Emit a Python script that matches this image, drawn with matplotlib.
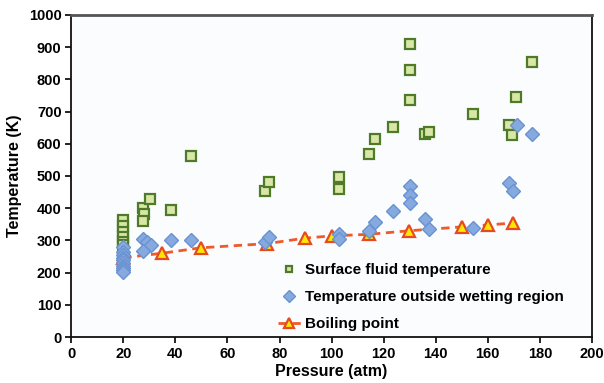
import matplotlib
matplotlib.use("Agg")
import matplotlib.pyplot as plt

plt.rcParams['font.family'] = ['Liberation Sans', 'DejaVu Sans']

# Surface fluid temperature (green squares)
surf_p = [20, 20, 20, 20, 20, 20, 27.4, 28, 27.4, 30.3, 38.4, 46, 74.3, 75.8,
          103, 103, 114.5, 116.7, 123.4, 130, 130, 130, 136, 137.6,
          154.3, 168.3, 169.4, 171, 177]
surf_t = [363, 345, 327, 310, 296, 285, 400, 382, 361, 428, 393, 563, 453, 482,
          498, 460, 567, 616, 653, 911, 830, 736, 629, 636,
          692, 659, 626, 746, 854]

# Temperature outside wetting region (blue diamonds)
out_p = [20, 20, 20, 20, 20, 20, 20, 20, 20, 20,
         27.4, 29, 30.5, 27.4, 38.4, 46, 74.5, 76, 103, 103,
         114.5, 116.7, 123.4, 130, 130, 130, 136, 137.6,
         154.3, 168.3, 169.5, 171.2, 177]
out_t = [278, 265, 255, 245, 238, 230, 222, 215, 208, 202,
         305, 296, 285, 268, 300, 301, 294, 310, 319, 304,
         330, 356, 392, 469, 440, 416, 367, 334,
         339, 477, 454, 657, 630]

# Boiling point (triangles, dashed line)
boil_p = [20, 34.7, 49.7, 75.2, 89.7, 100, 114.5, 129.8, 150, 160, 169.7]
boil_t = [246, 260, 277, 290, 307, 314, 319, 330, 342, 348, 354]

x_ticks = [0, 20, 40, 60, 80, 100, 120, 140, 160, 180, 200]
y_ticks = [0, 100, 200, 300, 400, 500, 600, 700, 800, 900, 1000]

fig = plt.figure(figsize=(6.04, 3.83), dpi=100)
ax = fig.add_axes([0.118, 0.120, 0.862, 0.841])
ax.set_facecolor('#fbfcfe')

ax.plot(boil_p, boil_t, linestyle=(0, (3, 2)), color='#ee5a2a', linewidth=2,
        marker='^', markersize=9, markerfacecolor='#ffe800',
        markeredgecolor='#e64a22', markeredgewidth=1.6, zorder=2,
        label='Boiling point')
ax.plot(surf_p, surf_t, linestyle='none', marker='s', markersize=6.5,
        markerfacecolor='#d8e6a6', markeredgecolor='#4e7a2a', markeredgewidth=1.6,
        zorder=3, label='Surface fluid temperature')
ax.plot(out_p, out_t, linestyle='none', marker='D', markersize=7.5,
        markerfacecolor='#86aae0', markeredgecolor='#6a92d0', markeredgewidth=1.0,
        zorder=4, label='Temperature outside wetting region')

ax.set_xlim(0, 200)
ax.set_ylim(0, 1000)
ax.set_xticks(x_ticks)
ax.set_yticks(y_ticks)
ax.tick_params(direction='out', length=4, width=1.2, labelsize=10.5, pad=3)
for lab in ax.get_xticklabels() + ax.get_yticklabels():
    lab.set_fontweight('bold')
for s in ax.spines.values():
    s.set_linewidth(1.3)
    s.set_color('#111111')
ax.spines['top'].set_color('#555555')
ax.spines['top'].set_linewidth(2)

ax.set_xlabel('Pressure (atm)', fontsize=11.5, fontweight='bold', labelpad=2)
ax.set_ylabel('Temperature (K)', fontsize=11.5, fontweight='bold', labelpad=5)

h, l = ax.get_legend_handles_labels()
order = [1, 2, 0]
leg = ax.legend([h[i] for i in order], [l[i] for i in order],
                loc='lower left', bbox_to_anchor=(0.37, -0.025), frameon=False,
                prop={'weight': 'bold', 'size': 11}, handlelength=1.5,
                handletextpad=0.3, labelspacing=0.85, markerscale=0.75)

fig.savefig('out.png', dpi=100)
